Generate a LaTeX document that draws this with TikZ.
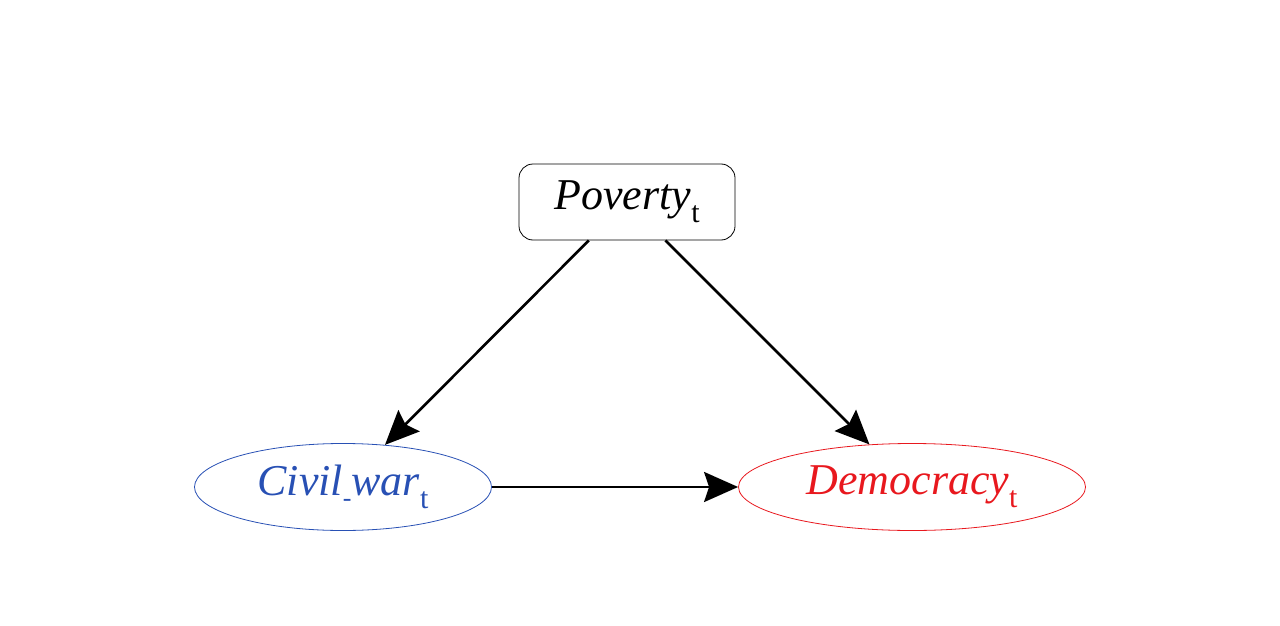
\documentclass[tikz,border=0pt]{standalone}
\usepackage{fontspec}
\setmainfont{Liberation Serif}
\usetikzlibrary{shapes.geometric,arrows.meta}

\newcommand{\sub}[1]{\raisebox{-0.3em}{\fontsize{30}{30}\selectfont #1}}

\begin{document}
\begin{tikzpicture}[
    x=1pt, y=1pt,
    box/.style={
        rectangle, rounded corners=14pt,
        minimum width=216pt,
        minimum height=76pt,
        draw=black, line width=0.8pt,
        inner sep=0pt,
        font=\fontsize{44}{48}\selectfont
    },
    oval/.style={
        ellipse, inner sep=0pt,
        minimum height=87pt,
        line width=0.8pt,
        font=\fontsize{44}{48}\selectfont
    },
    arrow/.style={-{Stealth[length=34pt,width=30pt,inset=5pt]}, line width=2.6pt}
]
\definecolor{warblue}{RGB}{40,80,180}
\definecolor{demred}{RGB}{232,24,30}
\useasboundingbox (0,0) rectangle (1280,-626);

% --- Hàng 1 ---
\node[box] (poverty) at (627,-202) {\textit{Poverty}\sub{t}};

% --- Hàng 2 ---
\node[oval, draw=warblue, text=warblue, minimum width=297pt] (civil) at (343,-487)
    {\textit{Civil}\raisebox{-0.25em}{\fontsize{26}{26}\selectfont -}\textit{war}\sub{t}};
\node[oval, draw=demred, text=demred, minimum width=347pt] (demo) at (912,-487)
    {\textit{Democracy}\sub{t}};

% --- Mũi tên ---
\draw[arrow] (poverty) -- (civil);
\draw[arrow] (poverty) -- (demo);
\draw[arrow] (civil) -- (demo);

\end{tikzpicture}
\end{document}
